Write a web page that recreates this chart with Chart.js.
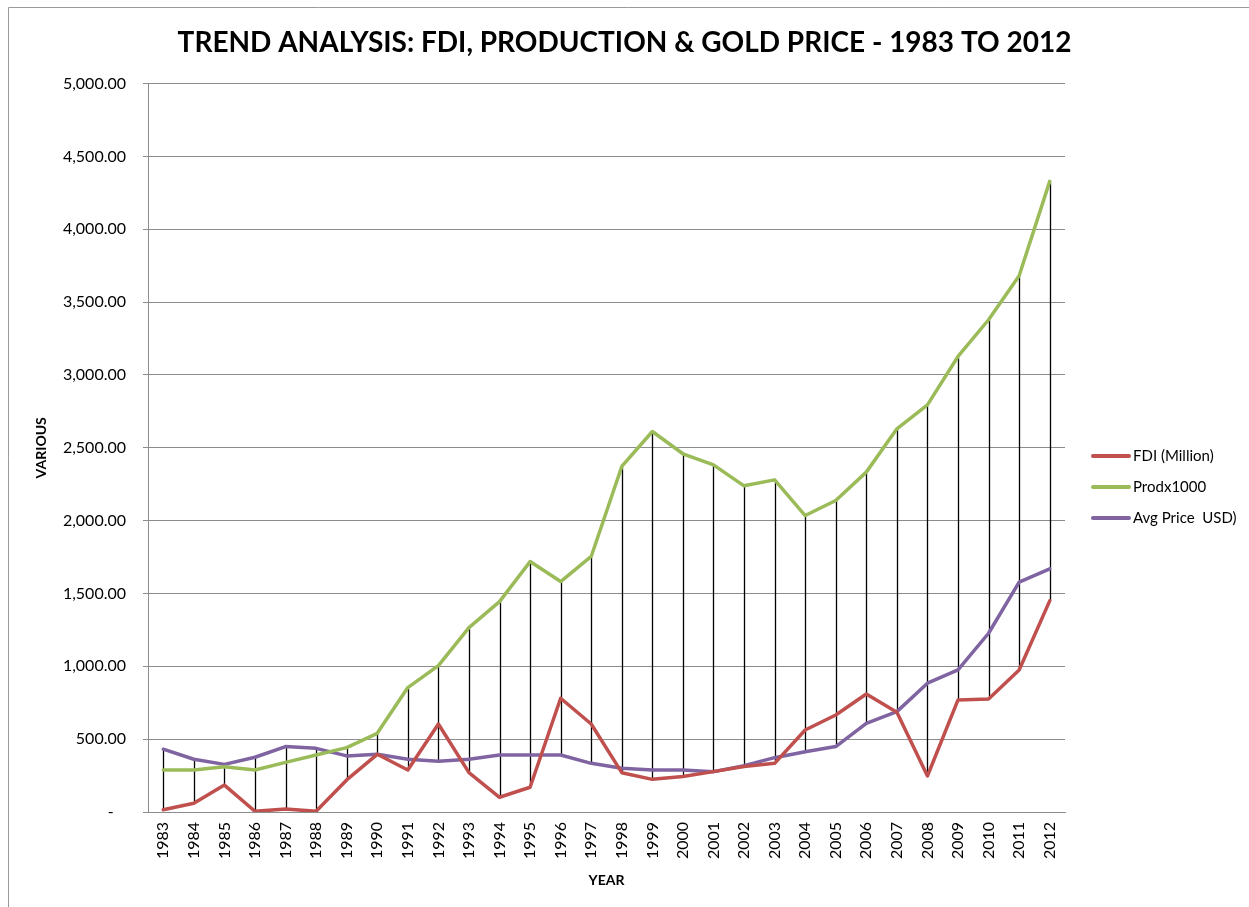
<!DOCTYPE html>
<html>
<head>
<meta charset="utf-8">
<title>Trend Analysis</title>
<script src="https://cdn.jsdelivr.net/npm/chart.js@4/dist/chart.umd.min.js"></script>
<style>
    html, body { margin: 0; padding: 0; background: #fff; }
    canvas { display: block; }
</style>
</head>
<body>
<canvas id="trendChart" width="1249" height="907"></canvas>
<script>
// Data
const years = ['1983', '1984', '1985', '1986', '1987', '1988', '1989', '1990', '1991', '1992',
    '1993', '1994', '1995', '1996', '1997', '1998', '1999', '2000', '2001', '2002',
    '2003', '2004', '2005', '2006', '2007', '2008', '2009', '2010', '2011', '2012'];

const fdiMillion = [15, 60, 185, 5, 20, 5, 220, 396, 288, 604,
    270, 101, 170, 781, 604, 270, 224, 243, 277, 313,
    334, 563, 666, 810, 685, 247, 769, 776, 975, 1449];

const prodx1000 = [288, 288, 311, 288, 341, 391, 442, 540, 854, 1005,
    1266, 1444, 1719, 1582, 1754, 2372, 2612, 2459, 2383, 2239,
    2280, 2035, 2138, 2333, 2630, 2795, 3127, 3379, 3681, 4329];

const avgPriceUsd = [431, 362, 327, 376, 449, 437, 385, 396, 362, 348,
    362, 391, 391, 391, 334, 300, 288, 288, 277, 318,
    373, 414, 449, 609, 689, 884, 975, 1227, 1578, 1669];

const yTicks = [0, 500, 1000, 1500, 2000, 2500, 3000, 3500, 4000, 4500, 5000];

const FONT = 'Lato, "Open Sans", sans-serif';

(function () {
    // Chart outer frame (top and left edges are visible)
    const framePlugin = {
        id: 'frame',
        beforeDraw(chart) {
            const ctx = chart.ctx;
            ctx.save();
            ctx.strokeStyle = '#9a9a9a';
            ctx.lineWidth = 1;
            ctx.beginPath();
            ctx.moveTo(8.5, chart.height);
            ctx.lineTo(8.5, 7.5);
            ctx.lineTo(chart.width, 7.5);
            ctx.stroke();
            ctx.restore();
        }
    };

    // High-low lines: from lowest to highest series value at each year
    const highLowPlugin = {
        id: 'highLow',
        beforeDatasetsDraw(chart) {
            const ctx = chart.ctx;
            const x = chart.scales.x;
            const y = chart.scales.y;
            ctx.save();
            ctx.strokeStyle = '#000';
            ctx.lineWidth = 1.3;
            years.forEach((yr, i) => {
                const vals = chart.data.datasets.map(ds => ds.data[i]);
                const px = Math.round(x.getPixelForValue(i)) + 0.5;
                ctx.beginPath();
                ctx.moveTo(px, y.getPixelForValue(Math.min(...vals)));
                ctx.lineTo(px, y.getPixelForValue(Math.max(...vals)));
                ctx.stroke();
            });
            ctx.restore();
        }
    };

    // Legend drawn on the right, Excel style
    const sideLegendPlugin = {
        id: 'sideLegend',
        afterDraw(chart) {
            const ctx = chart.ctx;
            ctx.save();
            ctx.font = '15px ' + FONT;
            ctx.textBaseline = 'middle';
            chart.data.datasets.forEach((ds, i) => {
                const ly = 456 + i * 31;
                ctx.strokeStyle = ds.borderColor;
                ctx.lineWidth = 4;
                ctx.lineCap = 'round';
                ctx.beginPath();
                ctx.moveTo(1093, ly);
                ctx.lineTo(1129, ly);
                ctx.stroke();
                ctx.fillStyle = '#000';
                ctx.fillText(ds.label, 1133, ly);
            });
            ctx.restore();
        }
    };

    const ctxTrend = document.getElementById('trendChart').getContext('2d');
    new Chart(ctxTrend, {
        type: 'line',
        data: {
            labels: years,
            datasets: [{
                label: 'FDI (Million)',
                data: fdiMillion,
                borderColor: '#C0504D',
                backgroundColor: '#C0504D'
            }, {
                label: 'Prodx1000',
                data: prodx1000,
                borderColor: '#9BBB59',
                backgroundColor: '#9BBB59'
            }, {
                label: 'Avg Price  USD)',
                data: avgPriceUsd,
                borderColor: '#8064A2',
                backgroundColor: '#8064A2'
            }]
        },
        options: {
            responsive: false,
            animation: false,
            layout: { padding: { top: 26, right: 0, left: 0, bottom: 0 } },
            elements: {
                line: { borderWidth: 3.5, tension: 0, borderCapStyle: 'round', borderJoinStyle: 'round' },
                point: { radius: 0, hoverRadius: 0 }
            },
            plugins: {
                legend: { display: false },
                tooltip: { enabled: false },
                title: {
                    display: true,
                    text: 'TREND ANALYSIS: FDI, PRODUCTION & GOLD PRICE - 1983 TO 2012',
                    color: '#000',
                    font: { family: FONT, size: 28, weight: 'bold', lineHeight: 1.2 },
                    padding: { top: 0, bottom: 24 }
                }
            },
            scales: {
                x: {
                    offset: true,
                    grid: { display: false, drawTicks: false, offset: true },
                    border: { display: true, color: '#8c8c8c', width: 1 },
                    ticks: {
                        color: '#000',
                        font: { family: FONT, size: 16 },
                        minRotation: 90,
                        maxRotation: 90,
                        autoSkip: false,
                        padding: 10
                    },
                    title: {
                        display: true,
                        text: 'YEAR',
                        color: '#000',
                        font: { family: FONT, size: 14, weight: 'bold' },
                        padding: { top: 0, bottom: 18 }
                    },
                    afterFit(scale) { scale.height = 95; }
                },
                y: {
                    min: 0,
                    max: 5000,
                    afterBuildTicks(scale) {
                        scale.ticks = yTicks.map(v => ({ value: v }));
                    },
                    grid: { color: '#8c8c8c', lineWidth: 1, drawTicks: true, tickLength: 5, tickColor: '#8c8c8c' },
                    border: { display: true, color: '#8c8c8c', width: 1 },
                    ticks: {
                        color: '#000',
                        font: { family: FONT, size: 16 },
                        padding: 17,
                        callback(value) {
                            if (value === 0) return '-   ';
                            return value.toLocaleString('en-US', { minimumFractionDigits: 2, maximumFractionDigits: 2 });
                        }
                    },
                    title: {
                        display: true,
                        text: 'VARIOUS',
                        color: '#000',
                        font: { family: FONT, size: 14, weight: 'bold' },
                        padding: { top: 33, bottom: 0 }
                    },
                    afterFit(scale) { scale.width = 148; }
                },
                // empty right-hand band that holds the legend
                legendBand: {
                    type: 'linear',
                    position: 'right',
                    grid: { display: false, drawTicks: false },
                    border: { display: false },
                    ticks: { display: false },
                    afterFit(scale) { scale.width = 184; }
                }
            }
        },
        plugins: [framePlugin, highLowPlugin, sideLegendPlugin]
    });
})();
</script>
</body>
</html>
